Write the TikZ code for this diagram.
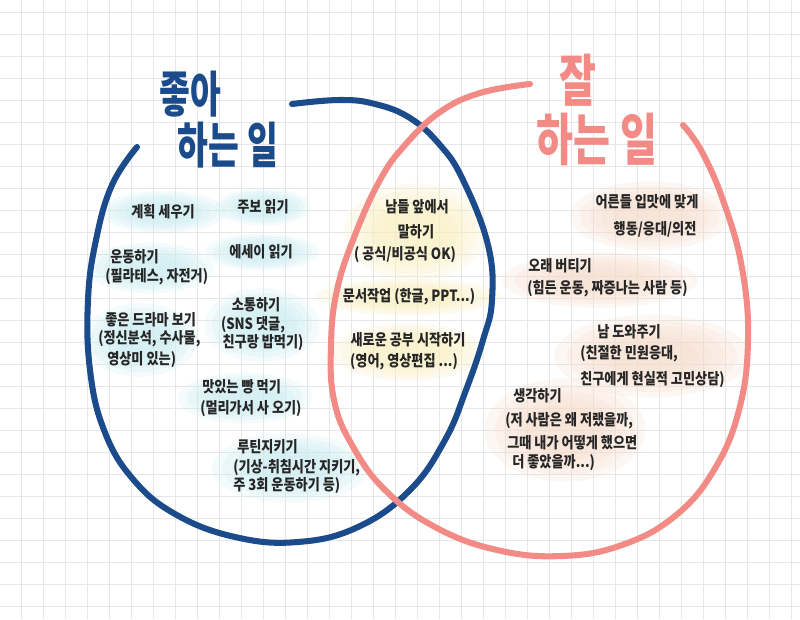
\documentclass[tikz,border=0pt]{standalone}
\usepackage{fontspec}
\newfontfamily\kr[FakeStretch=0.85]{Noto Sans CJK KR}
\usetikzlibrary{calc}
\definecolor{bluec}{HTML}{1C4B8C}
\definecolor{pinkc}{HTML}{F28B86}
\definecolor{gridc}{HTML}{E6E6E6}
\definecolor{glowc}{HTML}{C9EDF2}
\definecolor{glowy}{HTML}{F9F0BE}
\definecolor{glowp}{HTML}{F8DCCB}
\newcommand\myglow[5]{%
  \foreach \s in {1.15,1,0.85,0.7,0.55}{\fill[#1, opacity=0.22] (#2,#3) ellipse [x radius=\s*#4, y radius=\s*#5];}}
\tikzset{
  txt/.style={font=\kr\bfseries\fontsize{11}{13}\selectfont, inner sep=0pt, text=black!85},
  lt/.style={txt, anchor=west},
  ct/.style={txt, anchor=center},
  ring/.style={line width=4.3pt, line cap=round, line join=round},
  titleb/.style={font=\kr\bfseries\fontsize{35}{37}\selectfont, text=bluec, inner sep=0pt, xscale=0.8},
  titlep/.style={font=\kr\bfseries\fontsize{40}{42}\selectfont, text=pinkc, inner sep=0pt, xscale=0.84}
}
\begin{document}
\begin{tikzpicture}[x=0.025cm, y=-0.025cm]
\useasboundingbox (0,0) rectangle (800,619);
\fill[white] (0,0) rectangle (800,619);
% grid
\foreach \i in {0,...,36} \draw[gridc, line width=0.5pt] ({21+22*\i},0) -- ({21+22*\i},619);
\foreach \j in {0,...,28} \draw[gridc, line width=0.5pt] (0,{12.7+22*\j}) -- (800,{12.7+22*\j});
% glows left
\myglow{glowc}{163}{212}{55}{18}
\myglow{glowc}{263}{207}{42}{16}
\myglow{glowc}{262}{252}{50}{16}
\myglow{glowc}{150}{268}{55}{22}
\myglow{glowc}{140}{340}{50}{32}
\myglow{glowc}{262}{325}{50}{32}
\myglow{glowc}{245}{398}{58}{22}
\myglow{glowc}{290}{468}{68}{30}
% glows middle
\myglow{glowy}{415}{232}{62}{42}
\myglow{glowy}{409}{297}{80}{16}
\myglow{glowy}{408}{352}{66}{25}
% glows right
\myglow{glowp}{650}{216}{70}{30}
\myglow{glowp}{600}{280}{85}{24}
\myglow{glowp}{652}{356}{85}{36}
\myglow{glowp}{565}{430}{70}{45}
% rings
\draw[ring, bluec] plot[smooth, tension=0.7] coordinates {(137,147) (112,185) (96,240) (88,300) (90,370) (104,430) (132,478) (175,514) (235,537) (298,542) (358,527) (410,490) (445,440) (466,390) (483,340) (492,300) (488,245) (463,180) (440,145) (410,118) (375,104) (340,100) (292,104)};
\draw[ring, pinkc] plot[smooth, tension=0.7] coordinates {(530,84) (480,93) (440,112) (405,145) (380,180) (355,235) (337,290) (331,345) (334,400) (352,445) (385,490) (435,527) (497,550) (562,556) (622,545) (675,516) (714,470) (739,410) (748,340) (742,268) (724,203) (702,152) (683,125)};
% titles
\node[titleb] (tb1) at (190,94) {좋아};
\node[titleb] (tb2) at (228,145) {하는 일};
\node[titlep] (tp1) at (578,80) {잘};
\node[titlep] (tp2) at (597,139) {하는 일};
% left texts
\node[ct] (a1) at (163,212) {계획 세우기};
\node[ct] (a2) at (263,207) {주보 읽기};
\node[ct] (a3) at (261,252) {에세이 읽기};
\node[lt] (a4) at (110,257) {운동하기};
\node[lt] (a4b) at (105,277) {(필라테스, 자전거)};
\node[lt] (a5) at (105,320) {좋은 드라마 보기};
\node[lt] (a5b) at (98,339) {(정신분석, 수사물,};
\node[lt] (a5c) at (107,360) {영상미 있는)};
\node[ct] (a6) at (256,305) {소통하기};
\node[ct] (a6b) at (253,325) {(SNS 댓글,};
\node[ct] (a6c) at (263,343) {친구랑 밥먹기)};
\node[lt] (a7) at (202,387) {맛있는 빵 먹기};
\node[lt] (a7b) at (200,409) {(멀리가서 사 오기)};
\node[lt] (a8) at (237,447) {루틴지키기};
\node[lt] (a8b) at (233,468) {(기상-취침시간 지키기,};
\node[lt] (a8c) at (233,486) {주 3회 운동하기 등)};
% middle texts
\node[ct] (m1) at (417,207) {남들 앞에서};
\node[ct] (m1b) at (416,232) {말하기};
\node[ct] (m1c) at (405,255) {( 공식/비공식 OK)};
\node[ct] (m2) at (409,297) {문서작업 (한글, PPT...)};
\node[ct] (m3) at (408,340) {새로운 공부 시작하기};
\node[ct] (m3b) at (404,362) {(영어, 영상편집 ...)};
% right texts
\node[ct] (r1) at (647,202) {어른들 입맛에 맞게};
\node[ct] (r1b) at (655,229) {행동/응대/의전};
\node[lt] (r2) at (528,266) {오래 버티기};
\node[lt] (r2b) at (527,289) {(힘든 운동, 짜증나는 사람 등)};
\node[lt] (r3) at (597,332) {남 도와주기};
\node[lt] (r3b) at (580,354) {(친절한 민원응대,};
\node[lt] (r3c) at (580,380) {친구에게 현실적 고민상담)};
\node[lt] (r4) at (513,396) {생각하기};
\node[lt] (r4b) at (505,421) {(저 사람은 왜 저랬을까,};
\node[lt] (r4c) at (507,443) {그때 내가 어떻게 했으면};
\node[lt] (r4d) at (512,463) {더 좋았을까...)};
\end{tikzpicture}
\end{document}
